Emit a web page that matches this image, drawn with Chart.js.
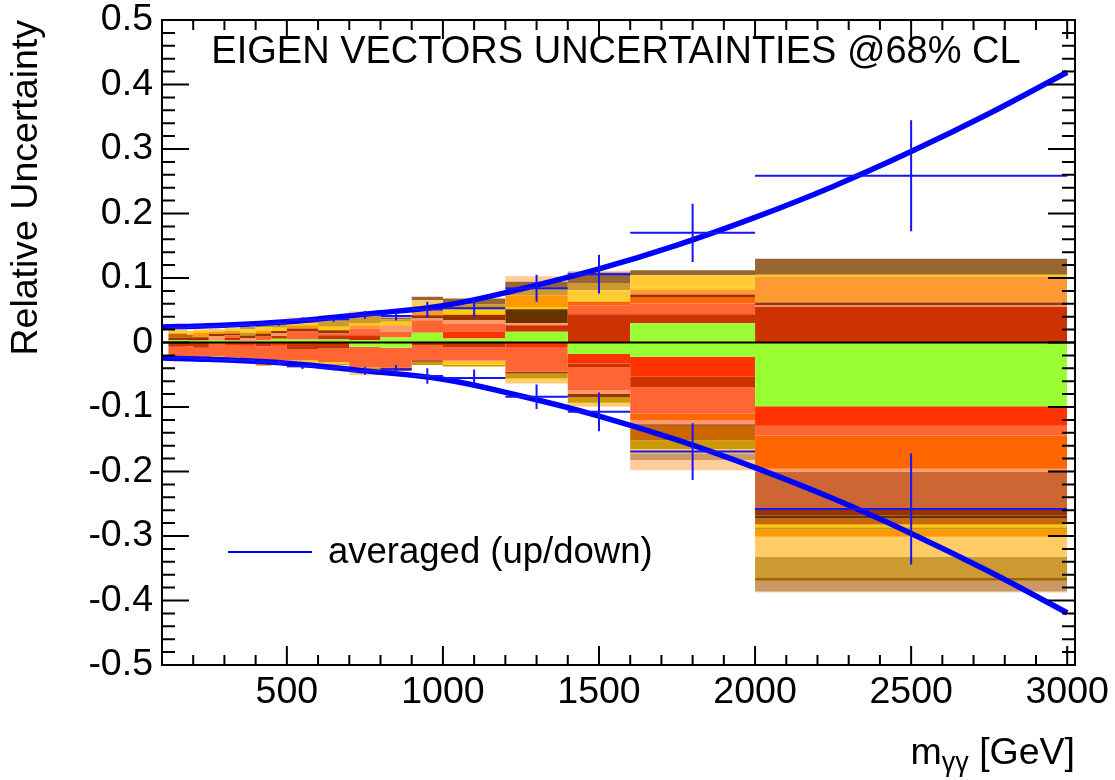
<!DOCTYPE html>
<html><head><meta charset="utf-8">
<script src="https://cdn.jsdelivr.net/npm/chart.js@4.4.1/dist/chart.umd.min.js"></script>
<style>html,body{margin:0;padding:0;background:#fff;}#wrap{width:1115px;height:780px;}</style>
</head><body><div id="wrap"><canvas id="c" width="1115" height="780"></canvas></div>
<script>
// ---------------- data ----------------
const binEdges = [120,180,200,250,300,350,400,450,500,600,700,800,900,1000,1200,1400,1600,2000,3000];
const xTickValues = [500,1000,1500,2000,2500,3000];
const yTickValues = [-0.5,-0.4,-0.3,-0.2,-0.1,0,0.1,0.2,0.3,0.4,0.5];

// eigenvector contributions per bin (up variations, stacked upward from 0)
const upGreen       = [.0036,.003,.003,.004,.003,.002,.003,.006,.0046,.0046,.0036,.0078,.015,.0062,.0165,0,.0299,0];
const upRed         = [0,0,0,0,0,0,0,0,0,0,0,0,0,.0108,0,0,0,0];
const upDarkRed     = [0,0,0,0,.004,0,0,.004,0,.0067,.0077,0,0,0,.0103,.0439,.014,.0553];
const upTomato      = [0,0,0,0,.004,0,.007,0,.0134,.0026,.0104,.0088,.0196,.012,0,.0139,.0166,0];
const upOrange      = [0,0,0,0,0,0,0,0,0,0,0,0,0,0,0,.0052,.0102,0];
const upSalmon      = [0,0,0,.006,0,.005,0,.004,0,0,0,.0102,.0026,.006,.0036,0,0,.0021];
const upSienna      = [0,0,0,0,0,0,0,0,0,0,0,0,0,0,0,0,0,0];
const upBrown       = [.0042,.004,.005,.003,.003,.004,.004,.004,.0037,.0051,0,0,.0051,.008,0,0,.0037,.0046];
const upDarkBrown   = [0,0,0,0,0,0,0,0,0,0,0,0,0,0,.0212,0,0,0];
const upDarkOrange  = [.006,.005,0,0,0,0,0,0,0,0,0,0,0,0,0,0,0,0];
const upLightOrange = [0,0,0,0,0,0,0,0,0,0,.0051,0,.0104,0,0,0,.0078,.0403];
const upGold        = [0,0,0,0,0,0,0,.005,0,.0053,.0033,.0052,.0051,.008,.0036,.0025,.0031,.0027];
const upGoldenrod   = [0,0,0,0,0,.004,0,0,0,0,0,0,0,.008,0,0,0,0];
const upAmber       = [0,0,.007,.004,.004,0,.004,0,.0051,0,0,0,0,0,.0181,0,0,0];
const upSunflower   = [.0062,.006,.005,0,.004,.005,.006,0,.0033,0,0,0,0,0,0,.0155,.019,0];
const upCream       = [0,0,0,.004,0,0,0,0,0,0,0,0,.0078,0,0,0,0,0];
const upTan         = [0,0,0,0,0,.004,.006,.006,.0065,.0144,.0148,.004,0,0,.0129,.0114,0,0];
const upOlive       = [0,0,0,0,0,0,0,0,0,0,0,0,0,0,0,0,0,0];
const upBronze      = [0,0,0,0,0,0,0,0,0,0,0,.0026,.0052,.0092,.0078,.0161,.0077,.0248];
const upKhaki       = [0,0,0,0,0,0,0,0,0,0,0,0,0,0,0,0,0,0];
const upPeach       = [0,0,0,0,0,0,.002,.003,.0021,.0036,.0036,0,0,0,.0088,.0025,0,0];

// down variations (magnitudes, stacked downward from 0)
const downGreen       = [0,0,0,0,0,0,0,0,0,0,.0067,.0083,0,0,0,.018,.0222,.0988];
const downRed         = [0,0,0,0,.004,.005,0,.005,0,0,0,0,0,0,.0068,.0146,.031,.0303];
const downDarkRed     = [.0067,.006,.008,0,0,0,.006,0,.0109,.0093,0,0,.004,.0077,0,.0052,.0156,0];
const downTomato      = [.018,.017,.017,.021,.019,.022,.022,.022,.0165,.0208,.0321,.0305,.0234,.0193,.0387,.0366,.0412,.0151];
const downOrange      = [0,0,0,0,0,0,0,0,0,0,0,0,0,0,0,0,.0105,.0516];
const downSalmon      = [0,0,0,0,0,0,0,0,0,0,0,0,0,.0026,0,.0056,.0061,.0042];
const downSienna      = [0,0,0,0,0,0,0,0,0,0,0,0,0,0,0,0,0,.0583];
const downBrown       = [0,0,0,0,0,0,0,0,0,0,0,.0025,.0026,0,.0025,.005,.0024,.0099];
const downDarkBrown   = [0,0,0,0,0,0,0,0,0,0,0,0,0,0,0,0,0,.0047];
const downDarkOrange  = [0,0,0,0,0,0,0,0,0,0,0,0,0,0,0,0,.0225,.0093];
const downLightOrange = [0,0,0,0,0,0,0,0,0,0,0,0,0,0,0,0,0,0];
const downGold        = [0,0,0,.004,.004,.005,.004,0,.003,.0026,0,0,0,.005,0,0,0,.0041];
const downGoldenrod   = [0,0,0,0,0,0,0,0,0,0,.0045,0,.005,.0026,.0078,.0086,.0135,.0041];
const downAmber       = [0,0,0,0,0,0,.004,0,0,0,0,.0027,0,0,0,0,0,.0109];
const downSunflower   = [.0042,0,0,0,0,0,0,0,0,0,0,0,0,0,0,0,0,0];
const downCream       = [0,.003,.003,0,0,0,0,.005,.005,0,.004,0,0,0,.0078,.0052,.0068,.0305];
const downTan         = [0,0,0,0,0,0,0,0,.003,.0025,0,0,0,0,0,0,0,.0335];
const downOlive       = [0,0,0,0,0,0,0,0,0,0,0,0,0,0,0,0,0,.0042];
const downBronze      = [0,0,0,0,0,0,0,0,0,0,0,0,0,0,0,0,0,0];
const downKhaki       = [0,0,0,0,0,0,0,0,0,0,0,0,0,0,0,0,.0104,.0165];
const downPeach       = [0,0,0,0,0,0,0,0,0,0,.0034,0,0,0,0,.001,.0158,.0016];

// averaged up/down points with errors (bin centres, half bin width as x error)
const crossUp      = [.023,.024,.025,.025,.026,.027,.029,.030,.035,.036,.043,.041,.051,.053,.084,.106,.170,.2585];
const crossUpErr   = [.002,.002,.002,.002,.002,.003,.003,.004,.004,.004,.006,.007,.012,.013,.021,.030,.045,.086];
const crossDown    = [-.023,-.024,-.025,-.026,-.027,-.028,-.030,-.031,-.037,-.039,-.044,-.042,-.052,-.055,-.084,-.1075,-.169,-.258];
const crossDownErr = [.002,.002,.002,.002,.002,.003,.003,.004,.004,.004,.006,.007,.012,.013,.019,.030,.044,.086];

// smooth fitted envelope
const curveX    = [100,250,500,750,1000,1250,1500,1750,2000,2250,2500,2750,3000];
const curveUp   = [.024,.026,.032,.044,.057,.083,.114,.151,.194,.242,.296,.355,.419];
const curveDown = [-.024,-.026,-.032,-.044,-.057,-.083,-.114,-.151,-.194,-.242,-.296,-.355,-.419];

const components = [
  ['#99ff33', upGreen, downGreen], ['#ff3300', upRed, downRed], ['#cc3300', upDarkRed, downDarkRed],
  ['#ff6633', upTomato, downTomato], ['#ff6600', upOrange, downOrange], ['#ff9966', upSalmon, downSalmon],
  ['#cc6633', upSienna, downSienna], ['#993300', upBrown, downBrown], ['#663300', upDarkBrown, downDarkBrown],
  ['#cc6600', upDarkOrange, downDarkOrange], ['#ff9933', upLightOrange, downLightOrange], ['#ffcc00', upGold, downGold],
  ['#cc9900', upGoldenrod, downGoldenrod], ['#ff9900', upAmber, downAmber], ['#ffcc33', upSunflower, downSunflower],
  ['#ffcc66', upCream, downCream], ['#cc9933', upTan, downTan], ['#996600', upOlive, downOlive],
  ['#996633', upBronze, downBronze], ['#cc9966', upKhaki, downKhaki], ['#ffcc99', upPeach, downPeach]
];

// ---------------- chart ----------------
const FONT = '"Liberation Sans", Arial, Helvetica, sans-serif';
const F = s => s + 'px ' + FONT;

function stepData(vals, sign) {
  return binEdges.map((e, i) => ({ x: e, y: sign * vals[Math.min(i, vals.length - 1)] }));
}
const datasets = [];
components.forEach(([col, u], i) => datasets.push({
  data: stepData(u, 1), stack: 'up', fill: i === 0 ? 'origin' : '-1', backgroundColor: col,
  borderColor: 'rgba(0,0,0,0)', borderWidth: 0, pointRadius: 0, stepped: true
}));
components.forEach(([col, , d], i) => datasets.push({
  data: stepData(d, -1), stack: 'down', fill: i === 0 ? 'origin' : '-1', backgroundColor: col,
  borderColor: 'rgba(0,0,0,0)', borderWidth: 0, pointRadius: 0, stepped: true
}));
datasets.push({ data: curveX.map((x, i) => ({ x, y: curveUp[i] })), stack: 'cu', fill: false,
  borderColor: '#0000ff', borderWidth: 5.5, pointRadius: 0, tension: 0.4, order: -1 });
datasets.push({ data: curveX.map((x, i) => ({ x, y: curveDown[i] })), stack: 'cd', fill: false,
  borderColor: '#0000ff', borderWidth: 5.5, pointRadius: 0, tension: 0.4, order: -1 });

const rootStyle = {
  id: 'rootStyle',
  afterDatasetsDraw(chart) {
    const { ctx, chartArea: a, scales: { x, y } } = chart;
    ctx.save();
    ctx.beginPath(); ctx.rect(a.left, a.top, a.right - a.left, a.bottom - a.top); ctx.clip();
    const y0 = y.getPixelForValue(0);
    ctx.strokeStyle = '#000'; ctx.lineWidth = 2;
    ctx.beginPath(); ctx.moveTo(a.left, y0); ctx.lineTo(a.right, y0); ctx.stroke();
    ctx.strokeStyle = '#1414ff'; ctx.lineWidth = 2;
    for (let i = 0; i < binEdges.length - 1; i++) {
      const xl = x.getPixelForValue(binEdges[i]), xr = x.getPixelForValue(binEdges[i + 1]);
      const xc = x.getPixelForValue((binEdges[i] + binEdges[i + 1]) / 2);
      [[crossUp[i], crossUpErr[i]], [crossDown[i], crossDownErr[i]]].forEach(([v, e]) => {
        const yp = y.getPixelForValue(v);
        ctx.beginPath();
        ctx.moveTo(xl, yp); ctx.lineTo(xr, yp);
        ctx.moveTo(xc, y.getPixelForValue(v + e)); ctx.lineTo(xc, y.getPixelForValue(v - e));
        ctx.stroke();
      });
    }
    ctx.restore();
  },
  afterDraw(chart) {
    const { ctx, chartArea: a, scales: { x, y } } = chart;
    ctx.save();
    ctx.strokeStyle = '#000'; ctx.lineWidth = 2;
    ctx.strokeRect(a.left, a.top, a.right - a.left, a.bottom - a.top);
    ctx.beginPath();
    for (let v = 200; v <= 3000; v += 100) {
      const px = x.getPixelForValue(v);
      const len = (v % 500 === 0) ? 19 : 10;
      ctx.moveTo(px, a.bottom); ctx.lineTo(px, a.bottom - len);
      ctx.moveTo(px, a.top); ctx.lineTo(px, a.top + len);
    }
    for (let k = -25; k <= 25; k++) {
      const py = y.getPixelForValue(k * 0.02);
      const len = (k % 5 === 0) ? 27 : 13;
      ctx.moveTo(a.left, py); ctx.lineTo(a.left + len, py);
      ctx.moveTo(a.right, py); ctx.lineTo(a.right - len, py);
    }
    ctx.stroke();

    ctx.fillStyle = '#000';
    ctx.font = F(38); ctx.textAlign = 'center'; ctx.textBaseline = 'alphabetic';
    ctx.fillText('EIGEN VECTORS UNCERTAINTIES @68% CL', 616, 63);
    ctx.strokeStyle = '#0000ff'; ctx.lineWidth = 2;
    ctx.beginPath(); ctx.moveTo(228, 552); ctx.lineTo(312, 552); ctx.stroke();
    ctx.font = F(36.5); ctx.textAlign = 'left';
    ctx.fillText('averaged (up/down)', 328, 563);
    ctx.textAlign = 'right';
    let xr = a.right;
    ctx.font = F(37.5);
    ctx.fillText('[GeV]', xr, 764);
    xr -= ctx.measureText('[GeV]').width + ctx.measureText(' ').width;
    ctx.font = F(27);
    ctx.fillText('γγ', xr, 771);
    xr -= ctx.measureText('γγ').width;
    ctx.font = F(37.5);
    ctx.fillText('m', xr, 764);
    ctx.save();
    ctx.translate(37, a.top);
    ctx.rotate(-Math.PI / 2);
    ctx.textAlign = 'right';
    ctx.font = F(37.5);
    ctx.fillText('Relative Uncertainty', 0, 0);
    ctx.restore();
    ctx.restore();
  }
};

new Chart(document.getElementById('c'), {
  type: 'line',
  data: { datasets },
  options: {
    responsive: false, animation: false, devicePixelRatio: 1,
    layout: { padding: { top: 20, right: 40, bottom: 0, left: 0 } },
    plugins: { legend: { display: false }, tooltip: { enabled: false }, title: { display: false } },
    scales: {
      x: {
        type: 'linear', min: 100, max: 3025,
        grid: { display: false, drawTicks: false }, border: { display: false },
        afterBuildTicks: s => { s.ticks = xTickValues.map(v => ({ value: v })); },
        afterFit: s => { s.height = 115; s.paddingLeft = 0; s.paddingRight = 0; },
        ticks: { color: '#000', font: { family: FONT, size: 37.5, lineHeight: 1 }, padding: 9, maxRotation: 0, autoSkip: false,
          callback: v => String(v) }
      },
      y: {
        type: 'linear', min: -0.5, max: 0.5, stacked: true,
        grid: { display: false, drawTicks: false }, border: { display: false },
        afterBuildTicks: s => { s.ticks = yTickValues.map(v => ({ value: v })); },
        afterFit: s => { s.width = 162; s.paddingTop = 0; s.paddingBottom = 0; },
        ticks: { color: '#000', font: { family: FONT, size: 37.5, lineHeight: 1 }, padding: 9,
          callback: v => String(Math.round(v * 10) / 10) }
      }
    }
  },
  plugins: [rootStyle]
});
</script>
</body></html>
